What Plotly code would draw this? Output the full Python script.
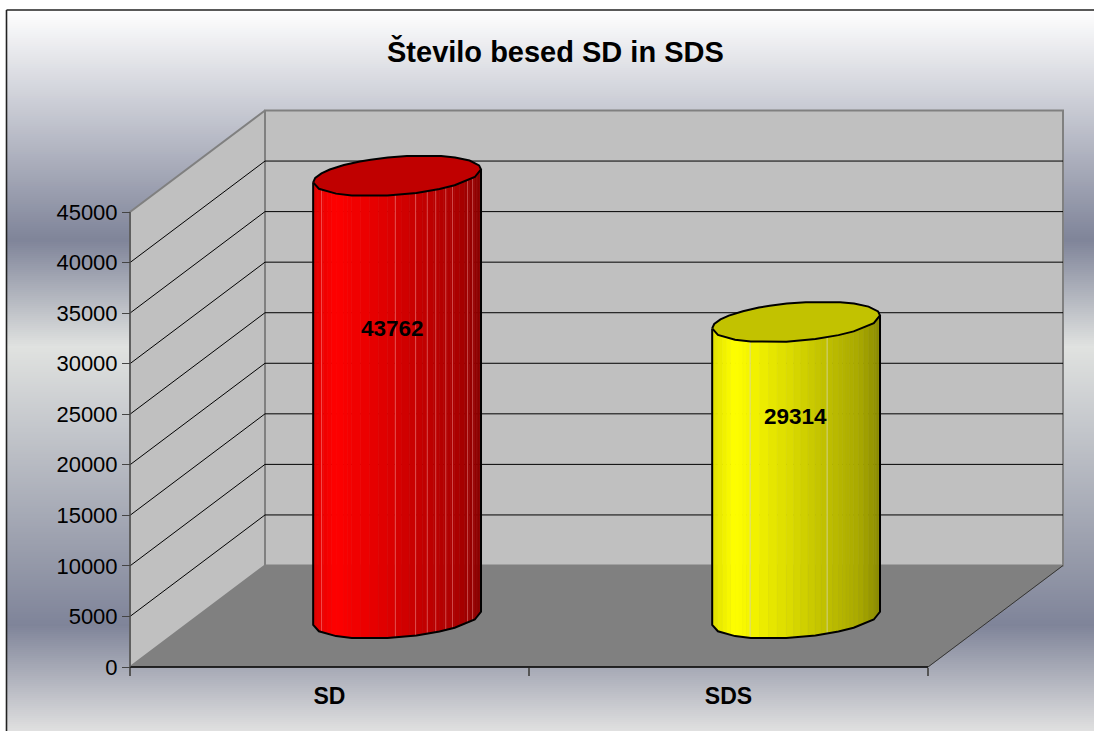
import math
import plotly.graph_objects as go

# Chart content
CATEGORIES = ["SD", "SDS"]
WORD_COUNTS = [43762, 29314]
VALUE_TICKS = [0, 5000, 10000, 15000, 20000, 25000, 30000, 35000, 40000, 45000]
BODY_RGB = [(255, 0, 0), (255, 255, 0)]
CAP_COLORS = ["#c00000", "#c2c200"]
LABEL_HEIGHTS = [33430, 24820]
LABEL_CENTRES = [0.659, 1.667]
SEAM_FRACTIONS = [[.05, .49, .61, .68, .73, .79, .83, .92, .95], [.226, .685]]
SEAM_COLORS = ["rgba(255,190,190,0.4)", "rgba(215,215,170,0.8)"]

WIDTH, HEIGHT = 1094, 731
LEFT, RIGHT, BOTTOM, TOP = 130, 928, 667, 212
V_MAX = VALUE_TICKS[-1]
PX_X = 2 / (RIGHT - LEFT)            # category units per pixel
PX_V = V_MAX / (BOTTOM - TOP)        # value units per pixel

# Oblique projection of the depth direction
DEPTH_X = 135 * PX_X
DEPTH_V = 101.5 * PX_V


def project(x, v, d):
    return x + d * DEPTH_X, v + d * DEPTH_V


def path(points):
    xs, ys = zip(*[project(*p) for p in points])
    return list(xs), list(ys)


fig = go.Figure()


def add_poly(points, fill=None, line=None, width=1.0):
    xs, ys = path(points)
    fig.add_trace(go.Scatter(
        x=xs, y=ys, mode="lines", showlegend=False, hoverinfo="skip",
        fill="toself" if fill else "none", fillcolor=fill,
        line=dict(color=line or "rgba(0,0,0,0)", width=width),
    ))


# Walls and floor of the box
add_poly([(0, 0, 0), (0, 0, 1), (2, 0, 1), (2, 0, 0), (0, 0, 0)], "#808080", "#808080", 1)
add_poly([(0, 0, 0), (0, V_MAX, 0), (0, V_MAX, 1), (0, 0, 1), (0, 0, 0)], "#c0c0c0", "#808080", 2)
add_poly([(0, 0, 1), (0, V_MAX, 1), (2, V_MAX, 1), (2, 0, 1), (0, 0, 1)], "#c0c0c0", "#808080", 2)
add_poly([(2, 0, 0), (2, 0, 1)], None, "#333333", 1)

# Gridlines folded over the side wall and the back wall
for tick in VALUE_TICKS[1:-1]:
    add_poly([(0, tick, 0), (0, tick, 1), (2, tick, 1)], None, "#000000", 1)

# Axis lines of the front plane
add_poly([(0, 0, 0), (2, 0, 0)], None, "#000000", 1.5)
add_poly([(0, 0, 0), (0, V_MAX, 0)], None, "#555555", 1.5)

# Cylinders: a coarse, uneven polygon stands in for the circular section
RADIUS_X = 79.5 * PX_X
RADIUS_D = 0.199
CENTRE_D = 0.48
FRONT_DEG = [198.8, 220, 242, 256, 282, 302, 319, 332, 356.5, 378.8]
BACK_DEG = [391, 409, 425, 437, 462, 475, 487, 495, 508, 522, 533, 546, 558.8]
N_SPLIT = 4
SHADE = [(0, .88), (.13, 1.0), (.46, .86), (.7, .74), (.88, .66), (1, .54)]


def shade_at(f):
    for (f0, s0), (f1, s1) in zip(SHADE, SHADE[1:]):
        if f <= f1:
            return s0 + (s1 - s0) * (f - f0) / (f1 - f0)
    return SHADE[-1][1]


def rim(cx, v, deg):
    t = math.radians(deg)
    return cx + RADIUS_X * math.cos(t), v, CENTRE_D + RADIUS_D * math.sin(t)


def lerp(p, q, f):
    return tuple(u + (w - u) * f for u, w in zip(p, q))


for i, value in enumerate(WORD_COUNTS):
    cx = i + 0.5 + 0.007
    left_edge = project(*rim(cx, 0, FRONT_DEG[0]))[0]
    span = project(*rim(cx, 0, FRONT_DEG[-1]))[0] - left_edge

    # Side facets, shaded left to right
    for deg0, deg1 in zip(FRONT_DEG, FRONT_DEG[1:]):
        p0, p1 = rim(cx, 0, deg0), rim(cx, 0, deg1)
        q0, q1 = rim(cx, value, deg0), rim(cx, value, deg1)
        for s in range(N_SPLIT):
            a, b = s / N_SPLIT, (s + 1) / N_SPLIT
            mid = project(*lerp(p0, p1, (a + b) / 2))[0]
            shade = shade_at((mid - left_edge) / span)
            colour = "rgb(%d,%d,%d)" % tuple(round(c * shade) for c in BODY_RGB[i])
            add_poly([lerp(p0, p1, a), lerp(p0, p1, b), lerp(q0, q1, b), lerp(q0, q1, a), lerp(p0, p1, a)],
                     colour, colour, 0.6)

    # Faint seams at chosen positions across the width
    for frac in SEAM_FRACTIONS[i]:
        target = left_edge + frac * span
        for deg0, deg1 in zip(FRONT_DEG, FRONT_DEG[1:]):
            x0 = project(*rim(cx, 0, deg0))[0]
            x1 = project(*rim(cx, 0, deg1))[0]
            if x0 <= target <= x1:
                f = (target - x0) / (x1 - x0)
                add_poly([lerp(rim(cx, 0, deg0), rim(cx, 0, deg1), f),
                          lerp(rim(cx, value, deg0), rim(cx, value, deg1), f)],
                         None, SEAM_COLORS[i], 1)
                break

    # Silhouette and top cap
    front = [rim(cx, 0, d) for d in FRONT_DEG]
    add_poly([rim(cx, value, FRONT_DEG[0])] + front + [rim(cx, value, FRONT_DEG[-1])], None, "#000000", 2)
    cap = [rim(cx, value, d) for d in FRONT_DEG + BACK_DEG + [FRONT_DEG[0] + 360]]
    add_poly(cap, CAP_COLORS[i], "#000000", 2)

# Page background: vertical banded gradient
BG_STOPS = [(10, (255, 255, 255)), (240, (127, 132, 153)), (347, (224, 226, 224)),
            (625, (127, 132, 153)), (731, (224, 224, 224))]


def bg_colour(y):
    for (y0, c0), (y1, c1) in zip(BG_STOPS, BG_STOPS[1:]):
        if y <= y1:
            f = (y - y0) / (y1 - y0)
            return "rgb(%d,%d,%d)" % tuple(round(a + (b - a) * f) for a, b in zip(c0, c1))
    return "rgb(224,224,224)"


shapes = []
for y in range(10, HEIGHT, 2):
    shapes.append(dict(type="rect", xref="paper", yref="paper", layer="below",
                       x0=7 / WIDTH, x1=1, y0=1 - y / HEIGHT, y1=1 - min(y + 3, HEIGHT) / HEIGHT,
                       fillcolor=bg_colour(y + 1), line=dict(width=0)))
frame = dict(color="#222222", width=1.6)
shapes.append(dict(type="line", xref="paper", yref="paper", layer="below", x0=6.5 / WIDTH, x1=6.5 / WIDTH,
                   y0=0, y1=1 - 10 / HEIGHT, line=frame))
shapes.append(dict(type="line", xref="paper", yref="paper", layer="below", x0=6.5 / WIDTH, x1=1,
                   y0=1 - 10 / HEIGHT, y1=1 - 10 / HEIGHT, line=frame))

FONT = "Liberation Sans, Arial, sans-serif"
annotations = [dict(text="<b>Število besed SD in SDS</b>", xref="paper", yref="paper",
                    x=555 / WIDTH, y=1 - 52 / HEIGHT, yanchor="middle", showarrow=False,
                    font=dict(family=FONT, size=29, color="#000000"))]
for i, value in enumerate(WORD_COUNTS):
    annotations.append(dict(text=f"<b>{value}</b>", x=LABEL_CENTRES[i], y=LABEL_HEIGHTS[i], xref="x", yref="y",
                            yanchor="middle", showarrow=False, font=dict(family=FONT, size=22.5, color="#000000")))

fig.update_layout(
    template="none",
    width=WIDTH, height=HEIGHT, margin=dict(l=0, r=0, t=0, b=0, pad=0),
    paper_bgcolor="#ffffff", plot_bgcolor="rgba(0,0,0,0)", showlegend=False,
    shapes=shapes, annotations=annotations,
    xaxis=dict(
        range=[-LEFT * PX_X, (WIDTH - LEFT) * PX_X], showgrid=False, zeroline=False, showline=False,
        automargin=False, anchor="free", position=1 - BOTTOM / HEIGHT,
        tickmode="array", tickvals=[0.5, 1.5], ticktext=CATEGORIES,
        ticks="outside", ticklen=8, tickcolor="rgba(0,0,0,0)",
        tickfont=dict(family=FONT, size=23, color="#000000", weight="bold"),
        minor=dict(tickmode="array", tickvals=[0, 1, 2], ticks="outside", ticklen=8, tickcolor="#555555", tickwidth=1.5),
    ),
    yaxis=dict(
        range=[-(HEIGHT - BOTTOM) * PX_V, BOTTOM * PX_V], showgrid=False, zeroline=False, showline=False,
        automargin=False, anchor="free", position=LEFT / WIDTH,
        tickmode="array", tickvals=VALUE_TICKS, ticktext=[str(t) for t in VALUE_TICKS],
        ticks="outside", ticklen=8, tickcolor="#444444", tickwidth=1,
        tickfont=dict(family=FONT, size=22, color="#000000"),
    ),
)

fig.write_html("out.html")
